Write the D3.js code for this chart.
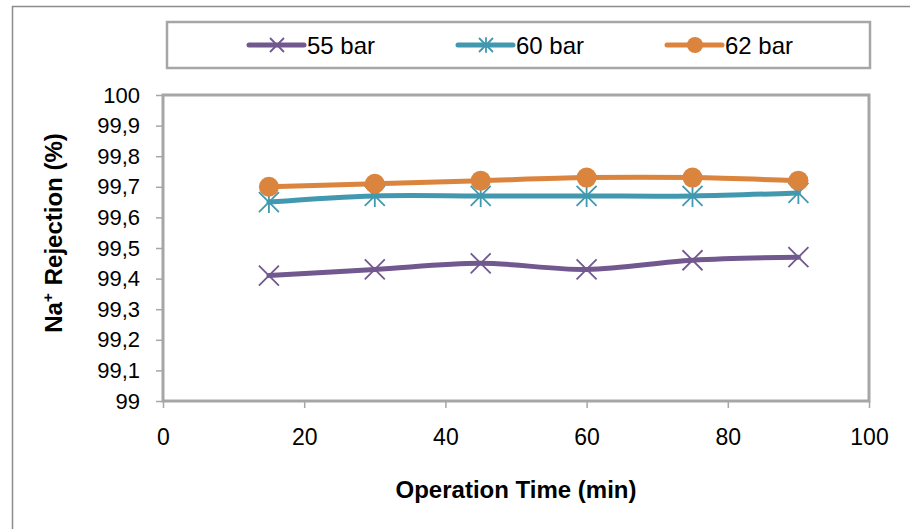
<!DOCTYPE html>
<html>
<head>
<meta charset="utf-8">
<script src="https://cdn.jsdelivr.net/npm/d3@7"></script>
<style>
    body { margin: 0; background: #fff; }
    svg { display: block; font-family: Arial, "Liberation Sans", sans-serif; }
</style>
</head>
<body>
<svg id="chart" width="910" height="529"></svg>
<script>
const times = [15, 30, 45, 60, 75, 90]
const bar55 = [99.41, 99.43, 99.45, 99.43, 99.46, 99.47]
const bar60 = [99.65, 99.67, 99.67, 99.67, 99.67, 99.68]
const bar62 = [99.70, 99.71, 99.72, 99.73, 99.73, 99.72]
const seriesNames = ['55 bar', '60 bar', '62 bar']
const xTicks = [0, 20, 40, 60, 80, 100]
const yTicks = [99, 99.1, 99.2, 99.3, 99.4, 99.5, 99.6, 99.7, 99.8, 99.9, 100]

const colors = ['#71588f', '#4198af', '#db843d']
const markers = ['x', 'star', 'circle']
const values = [bar55, bar60, bar62]

const svg = d3.select('#chart')
const margin = { left: 163, top: 95, right: 869, bottom: 401 }

const x = d3.scaleLinear().domain([0, 100]).range([margin.left, margin.right])
const y = d3.scaleLinear().domain([99, 100]).range([margin.bottom, margin.top])

// outer chart border
svg.append('rect')
    .attr('x', 12.5).attr('y', 6.5)
    .attr('width', 1000).attr('height', 1000)
    .attr('fill', 'none').attr('stroke', '#8c8c8c').attr('stroke-width', 1.5)

// legend box
svg.append('rect')
    .attr('x', 167).attr('y', 22)
    .attr('width', 703).attr('height', 46)
    .attr('fill', '#fff').attr('stroke', '#a6a6a6').attr('stroke-width', 2.5)

// axes
const xAxis = d3.axisBottom(x).tickValues(xTicks).tickSize(7).tickPadding(21).tickFormat(d3.format('d'))
const yAxis = d3.axisLeft(y).tickValues(yTicks).tickSize(7).tickPadding(16)
    .tickFormat(d => d3.format('.10~f')(d).replace('.', ','))

const gx = svg.append('g').attr('transform', `translate(0,${margin.bottom})`).call(xAxis)
const gy = svg.append('g').attr('transform', `translate(${margin.left},0)`).call(yAxis)

for (const g of [gx, gy]) {
    g.select('.domain').remove()
    g.selectAll('line').attr('stroke', '#a6a6a6').attr('stroke-width', 1.5)
    g.selectAll('text').attr('fill', '#000')
        .attr('font-family', 'Arial, "Liberation Sans", sans-serif')
}
gx.selectAll('text').attr('font-size', 23)
gy.selectAll('text').attr('font-size', 22)

// plot frame
svg.append('rect')
    .attr('x', margin.left).attr('y', margin.top)
    .attr('width', margin.right - margin.left)
    .attr('height', margin.bottom - margin.top)
    .attr('fill', 'none').attr('stroke', '#a6a6a6').attr('stroke-width', 3)

const line = d3.line()
    .x((d, i) => x(times[i]))
    .y(d => y(d))
    .curve(d3.curveCatmullRom.alpha(0.5))

function drawMarker(g, type, color, size) {
    if (type === 'circle') {
        g.append('circle').attr('r', size).attr('fill', color)
    } else if (type === 'x') {
        const s = size
        g.append('path').attr('d', `M${-s},${-s}L${s},${s}M${-s},${s}L${s},${-s}`)
            .attr('stroke', color).attr('stroke-width', 1.8)
    } else {
        const s = size
        g.append('path')
            .attr('d', `M${-s},${-s}L${s},${s}M${-s},${s}L${s},${-s}M0,${-s * 1.1}L0,${s * 1.1}`)
            .attr('stroke', color).attr('stroke-width', 1.8)
    }
}

values.forEach((vals, k) => {
    svg.append('path')
        .datum(vals)
        .attr('d', line)
        .attr('fill', 'none')
        .attr('stroke', colors[k])
        .attr('stroke-width', 5)
        .attr('stroke-linecap', 'round')

    vals.forEach((v, i) => {
        const g = svg.append('g').attr('transform', `translate(${x(times[i])},${y(v)})`)
        drawMarker(g, markers[k], colors[k], markers[k] === 'circle' ? 10 : 10)
    })
})

// legend entries
const legendX = [249, 458, 667]
seriesNames.forEach((name, k) => {
    const lg = svg.append('g').attr('transform', `translate(${legendX[k]},45)`)
    lg.append('line')
        .attr('x1', 0).attr('x2', 55)
        .attr('stroke', colors[k]).attr('stroke-width', 5).attr('stroke-linecap', 'round')
    const m = lg.append('g').attr('transform', 'translate(28,0)')
    drawMarker(m, markers[k], colors[k], markers[k] === 'circle' ? 8 : 7)
    lg.append('text')
        .attr('x', 58).attr('y', 8.5)
        .attr('font-size', 24)
        .text(name)
})

// axis titles
svg.append('text')
    .attr('x', 516).attr('y', 498)
    .attr('text-anchor', 'middle')
    .attr('font-size', 24).attr('font-weight', 'bold')
    .text('Operation Time (min)')

const yt = svg.append('text')
    .attr('transform', 'translate(62,233) rotate(-90)')
    .attr('text-anchor', 'middle')
    .attr('font-size', 24).attr('font-weight', 'bold')
yt.append('tspan').text('Na')
yt.append('tspan').attr('font-size', 15).attr('dy', -9).text('+')
yt.append('tspan').attr('dy', 9).attr('dx', 8).text('Rejection (%)')
</script>
</body>
</html>
